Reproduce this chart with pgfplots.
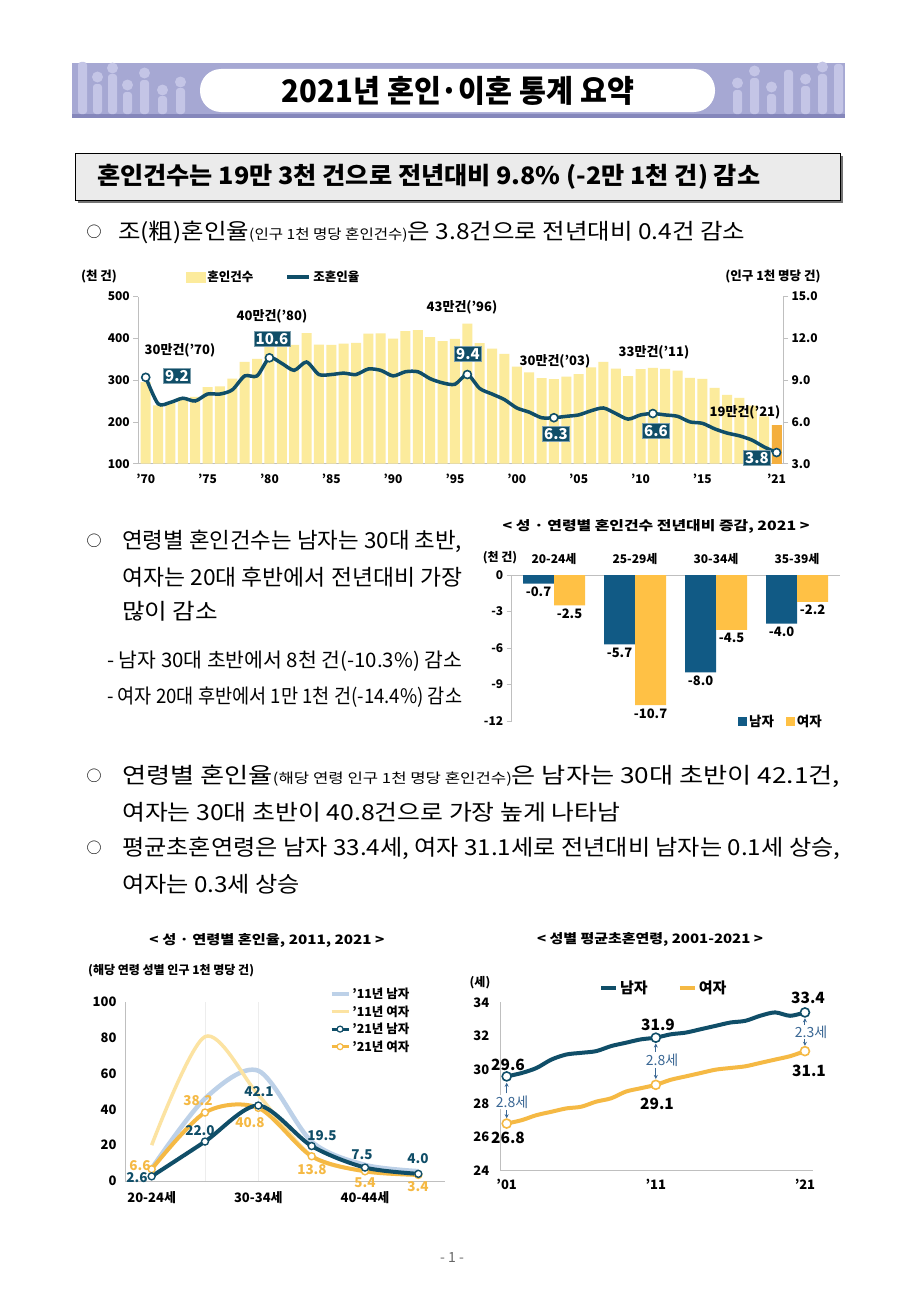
\documentclass[border=0pt]{standalone}
\usepackage{fontspec}
\setmainfont{Noto Sans CJK KR}
\usepackage{graphicx}
\usepackage{pgfplots}
\pgfplotsset{compat=1.18}
\usepackage{pgfplotstable}
\usetikzlibrary{arrows.meta}
\newcommand{\fs}[1]{\fontsize{#1}{#1}\selectfont}
\definecolor{barY}{HTML}{FCEB9C}
\definecolor{barO}{HTML}{F4AF3E}
\definecolor{teal1}{HTML}{104E68}
\definecolor{mblue}{HTML}{115A85}
\definecolor{fyel}{HTML}{FFC145}
\definecolor{lblue}{HTML}{BDD1E8}
\definecolor{lyel}{HTML}{FCE3A2}
\definecolor{orng}{HTML}{F5B944}
\definecolor{axgray}{HTML}{BFBFBF}
\definecolor{banner}{HTML}{A6A8D3}
\definecolor{bannerD}{HTML}{8587BB}
\definecolor{bannerL}{HTML}{C4C5E6}
\definecolor{arrowblue}{HTML}{3A6794}
\pgfplotsset{/pgf/number format/assume math mode=true}

\pgfplotstableread{
year count rate
1970 295.1 9.2
1971 239.5 7.3
1972 244.8 7.4
1973 259.1 7.7
1974 259.6 7.5
1975 283.2 8.0
1976 285.0 8.0
1977 303.4 8.3
1978 343.6 9.3
1979 350.5 9.3
1980 403.0 10.6
1981 392.5 10.2
1982 384.4 9.7
1983 412.2 10.3
1984 384.6 9.4
1985 384.3 9.4
1986 387.1 9.5
1987 389.1 9.4
1988 411.1 9.8
1989 411.7 9.7
1990 399.3 9.3
1991 416.9 9.6
1992 419.8 9.6
1993 402.6 9.1
1994 393.1 8.8
1995 398.5 8.7
1996 434.9 9.4
1997 388.6 8.4
1998 375.6 8.0
1999 362.7 7.6
2000 332.1 7.0
2001 318.4 6.7
2002 304.9 6.3
2003 302.5 6.3
2004 308.6 6.4
2005 314.3 6.5
2006 330.6 6.8
2007 343.6 7.0
2008 327.7 6.6
2009 309.8 6.2
2010 326.1 6.5
2011 329.1 6.6
2012 327.1 6.5
2013 322.8 6.4
2014 305.5 6.0
2015 302.8 5.9
2016 281.6 5.5
2017 264.5 5.2
2018 257.6 5.0
2019 239.2 4.7
2020 213.5 4.2
2021 192.5 3.8
}\marriage

\pgfplotstableread{
year rate
1970 9.2
1980 10.6
1996 9.4
2003 6.3
2011 6.6
2021 3.8
}\markpts

\pgfplotstableread{
x male female
0 -0.7 -2.5
1 -5.7 -10.7
2 -8.0 -4.5
3 -4.0 -2.2
}\agechg

\pgfplotstableread{
x m11 f11 m21 f21
0 7.0 20.0 2.6 6.6
1 46.0 80.5 22.0 38.2
2 61.5 48.0 42.1 40.8
3 22.0 14.0 19.5 13.8
4 9.0 5.5 7.5 5.4
5 5.5 3.5 4.0 3.4
}\agerate

\pgfplotstableread{
year male female
2001 29.6 26.8
2002 29.8 27.0
2003 30.1 27.3
2004 30.6 27.5
2005 30.9 27.7
2006 31.0 27.8
2007 31.1 28.1
2008 31.4 28.3
2009 31.6 28.7
2010 31.8 28.9
2011 31.9 29.1
2012 32.1 29.4
2013 32.2 29.6
2014 32.4 29.8
2015 32.6 30.0
2016 32.8 30.1
2017 32.9 30.2
2018 33.2 30.4
2019 33.4 30.6
2020 33.2 30.8
2021 33.4 31.1
}\firstage

\begin{document}
\begin{tikzpicture}[x=1pt,y=1pt]
\fill[white] (0pt,0pt) rectangle (903pt,-1298pt);

% ---------- banner ----------
\fill[banner] (72,-63) rectangle (845,-118);
\fill[bannerD] (72,-114) rectangle (845,-118);
\foreach \xx/\hh in {78/52,93/30,108/40,123/22,140/34,158/18,176/26}{
  \fill[bannerL,rounded corners=3pt] (\xx,-114) rectangle ++(9,\hh);
}
\foreach \xx/\yy in {97.5/-77,112.5/-68,127.5/-85,144.5/-73,162.5/-90,180.5/-82}{
  \fill[bannerL] (\xx,\yy) circle (5.5pt);
}
\foreach \xx/\hh in {733/24,750/36,767/20,784/44,801/28,818/40,834/50}{
  \fill[bannerL,rounded corners=3pt] (\xx,-114) rectangle ++(9,\hh);
}
\foreach \xx/\yy in {737.5/-83,754.5/-71,771.5/-87,805.5/-79,822.5/-67}{
  \fill[bannerL] (\xx,\yy) circle (5.5pt);
}
\fill[white, rounded corners=21pt] (200,-69) rectangle (715,-112);
\node[inner sep=0] at (458,-91) {\resizebox{352pt}{\height}{\fs{31}\bfseries 2021년 혼인·이혼 통계 요약}};

% ---------- gray box ----------
\fill[black!55] (78,-156) rectangle (843,-203);
\filldraw[fill=black!8, draw=black, line width=0.8pt] (75,-153) rectangle (840,-200);
\node[anchor=west, inner sep=0] at (97,-177) {\resizebox{663pt}{\height}{\fs{24}\bfseries 혼인건수는 19만 3천 건으로 전년대비 9.8\% (-2만 1천 건) 감소}};

% ---------- body text ----------
\node[inner sep=0] at (94,-232) {\fs{15}○};
\node[anchor=west, inner sep=0] at (118,-232) {\resizebox{627pt}{\height}{\fs{22}조(粗)혼인율{\fs{14}(인구 1천 명당 혼인건수)}은 3.8건으로 전년대비 0.4건 감소}};

\node[inner sep=0] at (94,-541) {\fs{15}○};
\node[anchor=west, inner sep=0] at (122,-541) {\resizebox{340pt}{\height}{\fs{22}연령별 혼인건수는 남자는 30대 초반,}};
\node[anchor=west, inner sep=0] at (122,-577) {\resizebox{340pt}{\height}{\fs{22}여자는 20대 후반에서 전년대비 가장}};
\node[anchor=west, inner sep=0] at (122,-611) {\resizebox{96pt}{\height}{\fs{22}많이 감소}};
\node[anchor=west, inner sep=0] at (107,-661) {\resizebox{355pt}{\height}{\fs{20}-~남자 30대 초반에서 8천 건(-10.3\%) 감소}};
\node[anchor=west, inner sep=0] at (107,-697) {\resizebox{355pt}{\height}{\fs{20}-~여자 20대 후반에서 1만 1천 건(-14.4\%) 감소}};

\node[inner sep=0] at (94,-776) {\fs{15}○};
\node[anchor=west, inner sep=0] at (122,-776) {\resizebox{718pt}{\height}{\fs{22}연령별 혼인율{\fs{14}(해당 연령 인구 1천 명당 혼인건수)}은 남자는 30대 초반이 42.1건,}};
\node[anchor=west, inner sep=0] at (122,-812) {\resizebox{498pt}{\height}{\fs{22}여자는 30대 초반이 40.8건으로 가장 높게 나타남}};
\node[inner sep=0] at (94,-848) {\fs{15}○};
\node[anchor=west, inner sep=0] at (122,-848) {\resizebox{718pt}{\height}{\fs{22}평균초혼연령은 남자 33.4세, 여자 31.1세로 전년대비 남자는 0.1세 상승,}};
\node[anchor=west, inner sep=0] at (122,-884) {\resizebox{178pt}{\height}{\fs{22}여자는 0.3세 상승}};

\node at (452,-1257) {\fs{14}\color{black!60}- 1 -};

% ---------- top chart ----------
\begin{axis}[at={(138.3pt,-463.7pt)}, anchor=south west, scale only axis,
  width=644.7pt, height=167.2pt,
  xmin=1969.4, xmax=2021.52, ymin=100, ymax=500,
  axis y line*=left, axis x line*=bottom,
  ytick={100,200,300,400,500},
  xtick={1970,1975,1980,1985,1990,1995,2000,2005,2010,2015,2021},
  xticklabels={'70,'75,'80,'85,'90,'95,'00,'05,'10,'15,'21},
  xtick style={draw=none},
  x tick label style={yshift=-2pt},
  ytick style={axgray, line width=0.8pt}, tick align=outside, major tick length=5pt,
  axis line style={axgray, line width=1pt},
  tick label style={font=\fs{12}\bfseries},
  ybar, bar width=10pt,
  legend columns=2,
  legend style={at={(0.069,1.117)}, anchor=west, draw=none, fill=none,
    font=\fs{12.5}\bfseries, /tikz/every even column/.append style={column sep=30pt}},
]
\addplot[fill=barY, draw=none, bar shift=0pt, forget plot] table[x=year,y=count]{\marriage};
\addplot[fill=barO, draw=none, bar shift=0pt, forget plot] coordinates {(2021,192.5)};
\addlegendimage{legend image code/.code={\fill[barY] (0pt,-5pt) rectangle (19pt,5pt);}}
\addlegendentry{혼인건수}
\addlegendimage{legend image code/.code={\draw[teal1, line width=4pt] (0pt,0pt) -- (22pt,0pt);}}
\addlegendentry{조혼인율}
\end{axis}
\begin{axis}[at={(138.3pt,-463.7pt)}, anchor=south west, scale only axis,
  width=644.7pt, height=167.2pt,
  xmin=1969.4, xmax=2021.52, ymin=3, ymax=15,
  axis y line*=right, axis x line=none,
  ytick={3,6,9,12,15},
  yticklabel style={/pgf/number format/.cd, fixed, fixed zerofill, precision=1},
  ytick style={axgray, line width=0.8pt}, tick align=outside, major tick length=5pt,
  axis line style={axgray, line width=1pt},
  tick label style={font=\fs{12}\bfseries},
  clip=false,
]
\addplot[teal1, line width=3.5pt, smooth, tension=0.45] table[x=year,y=rate]{\marriage};
\addplot[only marks, mark=*, mark size=4pt, mark options={fill=white, draw=teal1, line width=1.6pt}] table[x=year,y=rate]{\markpts};
\end{axis}
\node[font=\fs{12.5}\bfseries] at (99,-277) {(천 건)};
\node[font=\fs{12.5}\bfseries] at (773,-277) {(인구 1천 명당 건)};
\begin{scope}[every node/.style={font=\fs{13}\bfseries}]
\node at (180,-350) {30만건('70)};
\node at (272,-316) {40만건('80)};
\node at (462,-307) {43만건('96)};
\node at (555,-361) {30만건('03)};
\node at (654,-352) {33만건('11)};
\node at (745,-412) {19만건('21)};
\end{scope}
\begin{scope}[every node/.style={fill=teal1, text=white, font=\fs{15}\bfseries, inner sep=1.6pt, draw=teal1!55!white, line width=0.6pt}]
\node at (177,-376) {9.2};
\node at (272,-339) {10.6};
\node at (468,-354) {9.4};
\node at (556,-434) {6.3};
\node at (656,-431) {6.6};
\node at (757,-458) {3.8};
\end{scope}

% ---------- middle bar chart ----------
\node[inner sep=0] at (656,-526) {\resizebox{307pt}{\height}{\fs{13}\bfseries < 성 · 연령별 혼인건수 전년대비 증감, 2021 >}};
\begin{axis}[at={(511.7pt,-721pt)}, anchor=south west, scale only axis,
  width=328.3pt, height=146pt,
  xmin=-0.522, xmax=3.53, ymin=-12, ymax=0,
  axis y line*=left, axis x line*=top,
  ytick={-12,-9,-6,-3,0},
  xtick={0,1,2,3}, xticklabels={20-24세,25-29세,30-34세,35-39세},
  xtick style={draw=none},
  x tick label style={yshift=2pt},
  ytick style={axgray, line width=0.8pt}, tick align=outside, major tick length=5pt,
  axis line style={axgray, line width=1pt},
  tick label style={font=\fs{12}\bfseries},
  ybar=0pt, bar width=31pt,
  nodes near coords={\pgfmathprintnumber[fixed,fixed zerofill,precision=1]{\pgfplotspointmeta}},
  every node near coord/.append style={font=\fs{13}\bfseries, text=black},
  clip=false,
  legend columns=2,
  legend style={at={(0.68,-0.005)}, anchor=west, draw=none, fill=none,
    font=\fs{13.5}\bfseries, /tikz/every even column/.append style={column sep=10pt}},
]
\addplot[fill=mblue, draw=none, legend image code/.code={\fill[mblue] (0pt,-4.5pt) rectangle (9pt,4.5pt);}] table[x=x,y=male]{\agechg};
\addlegendentry{남자}
\addplot[fill=fyel, draw=none, legend image code/.code={\fill[fyel] (0pt,-4.5pt) rectangle (9pt,4.5pt);}] table[x=x,y=female]{\agechg};
\addlegendentry{여자}
\end{axis}
\node[font=\fs{12}\bfseries] at (500,-558) {(천 건)};

% ---------- bottom-left chart ----------
\node[inner sep=0] at (267,-940) {\resizebox{235pt}{\height}{\fs{13}\bfseries < 성 · 연령별 혼인율, 2011, 2021 >}};
\node[anchor=west, inner sep=0, font=\fs{12}\bfseries] at (88,-971) {(해당 연령 성별 인구 1천 명당 건)};
\begin{axis}[at={(125pt,-1181pt)}, anchor=south west, scale only axis,
  width=320pt, height=179.3pt,
  xmin=-0.5, xmax=5.5, ymin=0, ymax=100,
  axis y line*=left, axis x line*=bottom,
  ytick={0,20,40,60,80,100},
  xtick={0,2,4}, xticklabels={20-24세,30-34세,40-44세},
  xtick style={draw=none}, ytick style={draw=none},
  x tick label style={yshift=-7pt},
  y tick label style={xshift=-5pt},
  extra x ticks={1,2}, extra x tick labels={},
  extra x tick style={grid=major, major grid style={black!7, line width=0.8pt}},
  axis line style={axgray, line width=1pt},
  tick label style={font=\fs{13}\bfseries},
  clip=false,
  legend style={at={(0.63,1.10)}, anchor=north west, draw=none, fill=none,
    font=\fs{12.5}\bfseries, row sep=1.5pt, legend cell align=left},
]
\addplot[lblue, line width=4.5pt, smooth, forget plot] table[x=x,y=m11]{\agerate};
\addplot[lyel, line width=3.5pt, smooth, forget plot] table[x=x,y=f11]{\agerate};
\addplot[orng, line width=4pt, smooth, mark=*, mark size=3.5pt, mark options={fill=white, draw=orng, line width=1.4pt}, forget plot] table[x=x,y=f21]{\agerate};
\addplot[teal1, line width=4pt, smooth, mark=*, mark size=3.5pt, mark options={fill=white, draw=teal1, line width=1.4pt}, forget plot] table[x=x,y=m21]{\agerate};
\addlegendimage{lblue, line width=3.5pt}
\addlegendentry{'11년 남자}
\addlegendimage{lyel, line width=3.5pt}
\addlegendentry{'11년 여자}
\addlegendimage{teal1, line width=3pt, mark=*, mark size=3pt, mark options={fill=white, draw=teal1, line width=1.2pt}}
\addlegendentry{'21년 남자}
\addlegendimage{orng, line width=3pt, mark=*, mark size=3pt, mark options={fill=white, draw=orng, line width=1.2pt}}
\addlegendentry{'21년 여자}
\end{axis}
\begin{scope}[every node/.style={font=\fs{13.5}\bfseries}]
\node[text=orng] at (140,-1166) {6.6};
\node[text=teal1] at (137,-1178) {2.6};
\node[text=orng] at (198,-1101) {38.2};
\node[text=teal1] at (200,-1131) {22.0};
\node[text=teal1] at (259,-1092) {42.1};
\node[text=orng] at (250,-1123) {40.8};
\node[text=teal1] at (322,-1136) {19.5};
\node[text=orng] at (312,-1170) {13.8};
\node[text=teal1] at (362,-1155) {7.5};
\node[text=orng] at (365,-1183) {5.4};
\node[text=teal1] at (418,-1159) {4.0};
\node[text=orng] at (418,-1187) {3.4};
\end{scope}

% ---------- bottom-right chart ----------
\node[inner sep=0] at (650,-939) {\resizebox{226pt}{\height}{\fs{13}\bfseries < 성별 평균초혼연령, 2001-2021 >}};
\node[font=\fs{12}\bfseries] at (480,-983) {(세)};
\begin{axis}[at={(500.7pt,-1170.7pt)}, anchor=south west, scale only axis,
  width=312.3pt, height=168.4pt,
  xmin=2000.6, xmax=2021.54, ymin=24, ymax=34,
  axis y line*=left, axis x line*=bottom,
  ytick={24,26,28,30,32,34},
  xtick={2001,2011,2021}, xticklabels={'01,'11,'21},
  xtick style={draw=none}, ytick style={draw=none},
  x tick label style={yshift=-5pt},
  y tick label style={xshift=-8pt},
  axis line style={axgray, line width=1pt},
  tick label style={font=\fs{13}\bfseries},
  clip=false,
  legend columns=2,
  legend style={at={(0.305,1.085)}, anchor=west, draw=none, fill=none,
    font=\fs{15}\bfseries, /tikz/every even column/.append style={column sep=28pt}},
]
\addplot[orng, line width=4pt, smooth, mark=*, mark indices={1,11,21}, mark size=4.5pt, mark options={fill=white, draw=orng, line width=1.6pt}, forget plot] table[x=year,y=female]{\firstage};
\addplot[teal1, line width=4pt, smooth, mark=*, mark indices={1,11,21}, mark size=4.5pt, mark options={fill=white, draw=teal1, line width=1.6pt}, forget plot] table[x=year,y=male]{\firstage};
\addlegendimage{legend image code/.code={\draw[teal1, line width=4pt] (0pt,0pt) -- (15pt,0pt);}}
\addlegendentry{남자}
\addlegendimage{legend image code/.code={\draw[orng, line width=4pt] (0pt,0pt) -- (15pt,0pt);}}
\addlegendentry{여자}
\begin{scope}[arrowblue, line width=1pt, -{Stealth[length=4pt,width=4pt]}]
\draw (axis cs:2001,28.6) -- (axis cs:2001,29.22);
\draw (axis cs:2001,27.6) -- (axis cs:2001,27.12);
\draw (axis cs:2011,31.05) -- (axis cs:2011,31.55);
\draw (axis cs:2011,30.1) -- (axis cs:2011,29.45);
\draw (axis cs:2021,32.65) -- (axis cs:2021,33.05);
\draw (axis cs:2021,31.85) -- (axis cs:2021,31.42);
\end{scope}
\end{axis}
\begin{scope}[every node/.style={font=\fs{14}, text=arrowblue, fill=white, inner sep=0.3pt}]
\node at (512,-1102) {2.8세};
\node at (662,-1060) {2.8세};
\node at (811,-1032) {2.3세};
\end{scope}
\begin{scope}[every node/.style={font=\fs{15.5}\bfseries}]
\node at (508,-1065) {29.6};
\node at (508,-1138) {26.8};
\node at (658,-1025) {31.9};
\node at (657,-1104) {29.1};
\node at (808,-998) {33.4};
\node at (809,-1071) {31.1};
\end{scope}
\end{tikzpicture}
\end{document}
